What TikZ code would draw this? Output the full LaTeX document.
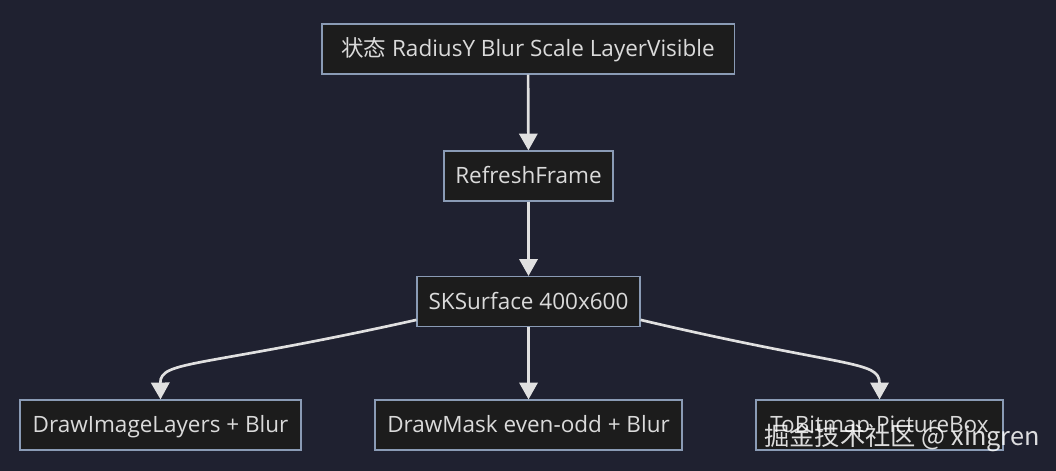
\documentclass[tikz,border=0pt]{standalone}
\usepackage{fontspec}
\setmainfont{Open Sans}
\newfontfamily\cjk{Noto Sans CJK SC}
\usetikzlibrary{arrows.meta}

\definecolor{bg}{HTML}{1F2130}
\definecolor{boxfill}{HTML}{1C1C1C}
\definecolor{boxline}{HTML}{8A9BB5}
\definecolor{txt}{HTML}{DADADA}
\definecolor{edge}{HTML}{E0E0E0}

\begin{document}
\begin{tikzpicture}[x=0.025cm, y=-0.025cm,
  box/.style={draw=boxline, fill=boxfill, text=txt, line width=0.8pt,
    minimum height=1.25cm, inner sep=0pt, text height=1.3em, text depth=0.22em,
    font=\fontsize{16}{18}\selectfont},
  flow/.style={draw=edge, line width=1.9pt, -{Triangle[width=13pt,length=12pt]}}]

\fill[bg] (0,0) rectangle (1056,471);
\useasboundingbox (0,0) rectangle (1056,471);

\node[box, minimum width=10.3cm] (state) at (528,49) {{\cjk 状态} RadiusY Blur Scale LayerVisible};
\node[box, minimum width=4.225cm] (refresh) at (528.5,176) {RefreshFrame};
\node[box, minimum width=5.575cm] (surface) at (528.5,301.5) {SKSurface 400x600};
\node[box, minimum width=7.025cm] (layers) at (160.5,425) {DrawImageLayers + Blur};
\node[box, minimum width=7.675cm] (mask) at (528.5,425) {DrawMask even-odd + Blur};
\node[box, minimum width=6.175cm] (bitmap) at (879.5,425) {ToBitmap PictureBox};

\draw[flow] (state) -- (refresh);
\draw[flow] (refresh) -- (surface);
\draw[flow] (surface) -- (mask);
\draw[flow] ([yshift=-0.46cm]surface.west) .. controls (200,368) and (160,360) .. (layers.north);
\draw[flow] ([yshift=-0.46cm]surface.east) .. controls (845,368) and (879.5,360) .. (bitmap.north);

% watermark
\node[anchor=west, inner sep=0pt, text=white, opacity=0.85, font=\cjk\fontsize{18}{20}\selectfont] (mark) at (764,438) {掘金技术社区 @ xingren};
\end{tikzpicture}
\end{document}
